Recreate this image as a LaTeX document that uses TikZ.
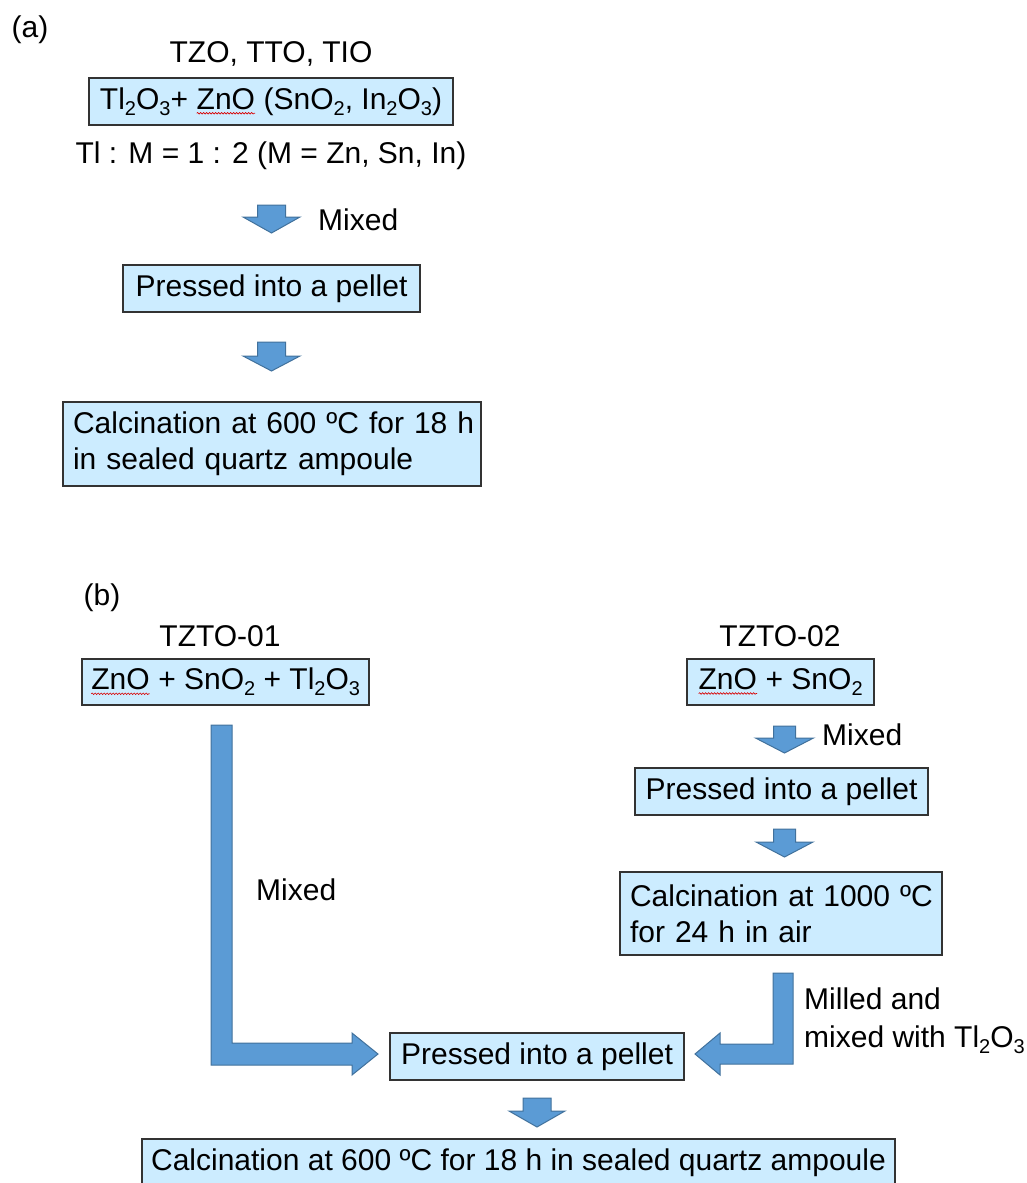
\documentclass[tikz,border=0pt]{standalone}
\usepackage{fontspec}
\setmainfont{Liberation Sans}
\usetikzlibrary{calc,decorations.pathmorphing}
\definecolor{boxfill}{HTML}{CCECFF}
\definecolor{arrfill}{HTML}{5B9BD5}
\definecolor{arrline}{HTML}{41719C}
\newcommand\subs[1]{\raisebox{-0.2em}{\fontsize{20}{20}\selectfont #1}}
\newcommand\zno{\tikz[baseline=(zz.base)]{\node[draw=none,fill=none,inner sep=0pt,outer sep=0pt,anchor=base,minimum width=0pt,minimum height=0pt] (zz) {ZnO};\draw[red!85!black,line width=0.6pt,fill=none,decorate,decoration={snake,amplitude=0.8pt,segment length=3pt}] ([yshift=-4pt]zz.base west) -- ([yshift=-4pt]zz.base east);}}
\tikzset{
  box/.style={draw=black!80, line width=1.1pt, fill=boxfill, inner sep=0pt, font=\fontsize{30}{36}\selectfont},
  lbl/.style={inner sep=0pt, font=\fontsize{30}{36}\selectfont},
  barrow/.style={fill=arrfill, draw=arrline, line width=1pt, line join=miter},
  pics/downarr/.style args={#1/#2/#3/#4}{code={\draw[barrow] (-#1,0) -- (#1,0) -- (#1,#2) -- (#3,#2) -- (0,#4) -- (-#3,#2) -- (-#1,#2) -- cycle;}}
}
\begin{document}
\begin{tikzpicture}[x=1pt,y=-1pt]
\useasboundingbox (0,0) rectangle (1026,1183);
% (a)
\node[lbl] (la) at (30,30) {(a)};
\node[lbl] (ta) at (271,54) {TZO, TTO, TIO};
\node[box, minimum width=364pt, minimum height=47pt] (a1) at (271,101.5) {Tl\subs{2}O\subs{3}+ \zno{} (SnO\subs{2}, In\subs{2}O\subs{3})};
\node[lbl] (ra) at (271,156) {Tl : M = 1 : 2 (M = Zn, Sn, In)};
\pic at (271.5,205) {downarr={14/12/28.5/28}};
\node[lbl, anchor=west] (ma) at (318,220) {Mixed};
\node[box, minimum width=297pt, minimum height=47pt] (a2) at (271.5,288.5) {Pressed into a pellet};
\pic at (271.5,342) {downarr={14/14/28.5/29}};
\node[box, minimum height=84pt, text width=398pt, inner xsep=10pt, align=left] (a3) at (272,444) {\mbox{Calcination at 600 ºC for 18 h}\\\mbox{in sealed quartz ampoule}};
% (b)
\node[lbl] (lb) at (102,598) {(b)};
\node[lbl] (t1) at (220,636) {TZTO-01};
\node[box, minimum width=287pt, minimum height=46pt] (b1) at (225.5,682) {\zno{} + SnO\subs{2} + Tl\subs{2}O\subs{3}};
\node[lbl] (t2) at (780,636) {TZTO-02};
\node[box, minimum width=187pt, minimum height=46pt] (b2) at (780.5,682) {\zno{} + SnO\subs{2}};
\pic at (784.5,726) {downarr={11/12/29/27}};
\node[lbl, anchor=west] (mb) at (822,735) {Mixed};
\node[box, minimum width=293pt, minimum height=47pt] (b3) at (781.5,791.5) {Pressed into a pellet};
\pic at (784.5,829) {downarr={11/13/28.5/28}};
\node[box, minimum height=83pt, text width=302pt, inner xsep=10pt, align=left] (b4) at (781,913.5) {\mbox{Calcination at 1000 ºC}\\\mbox{for 24 h in air}};
\node[box, minimum width=294pt, minimum height=47pt] (b5) at (537,1056.5) {Pressed into a pellet};
\node[lbl, anchor=west] (mx) at (256,890) {Mixed};
\node[lbl, anchor=west, align=left, font=\fontsize{30}{38}\selectfont] (ml) at (804,1021) {Milled and\\mixed with Tl\subs{2}O\subs{3}};
% L-shaped arrows
\draw[barrow] (211,725) -- (232,725) -- (232,1043) -- (352,1043) -- (352,1033) -- (378,1054) -- (352,1075) -- (352,1065) -- (211,1065) -- cycle;
\draw[barrow] (773,973) -- (793,973) -- (793,1064) -- (720,1064) -- (720,1075) -- (695,1054) -- (720,1033) -- (720,1044) -- (773,1044) -- cycle;
\pic at (537,1098) {downarr={14/13/28/29}};
\node[box, minimum width=753pt, minimum height=48pt] (b6) at (518.5,1163) {Calcination at 600 ºC for 18 h in sealed quartz ampoule};
\end{tikzpicture}
\end{document}
